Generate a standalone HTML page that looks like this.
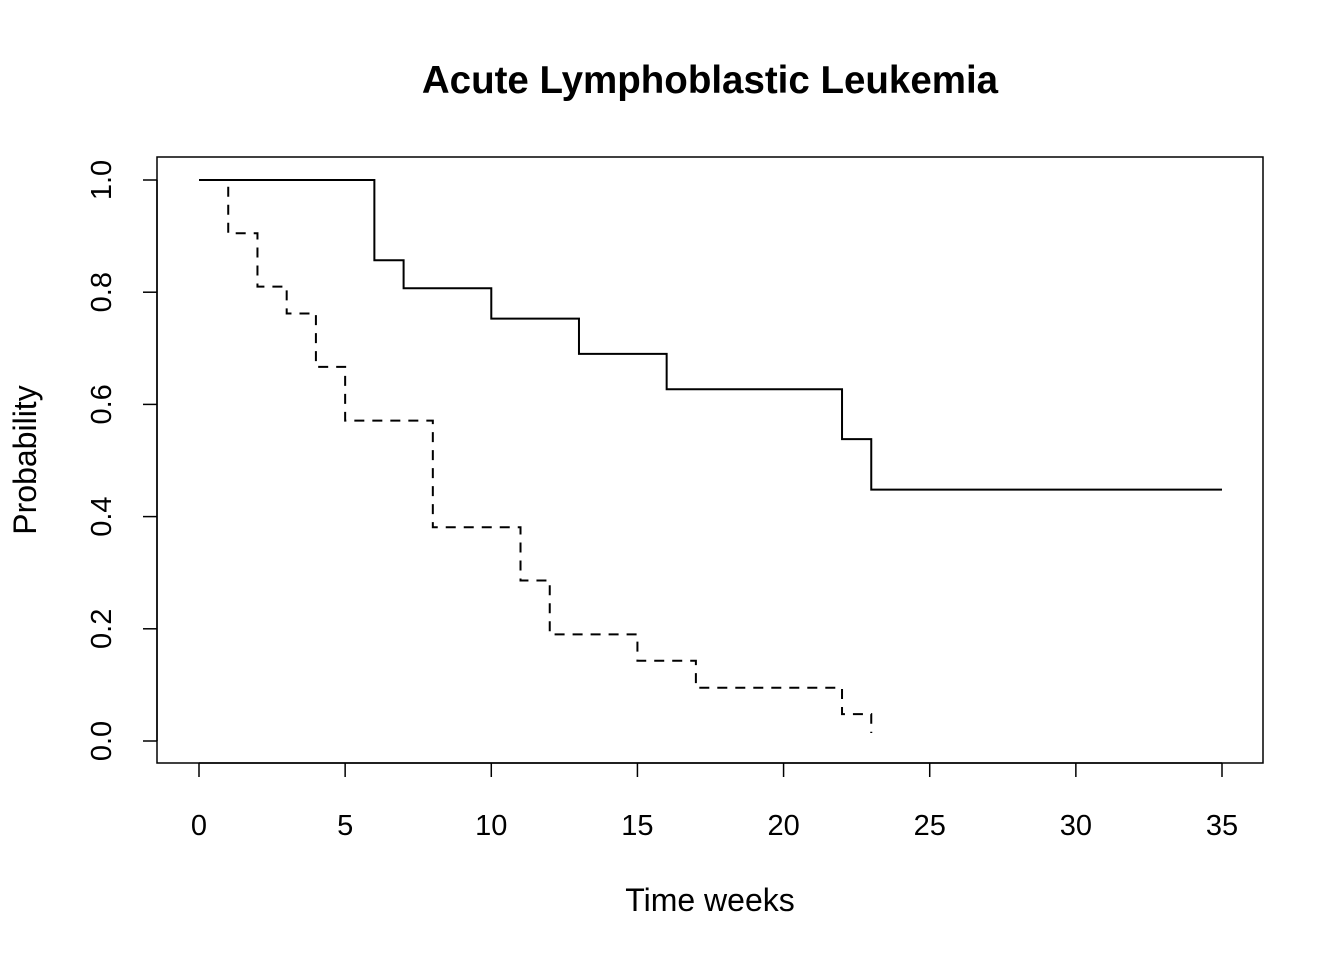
<!DOCTYPE html>
<html><head><meta charset="utf-8"><style>
body{margin:0;background:#fff}
svg{display:block;font-family:"Liberation Sans",Arial,sans-serif}
</style></head><body>
<svg id="chart" width="1344" height="960" xmlns="http://www.w3.org/2000/svg">
<rect width="1344" height="960" fill="#fff"/>
<text x="710" y="93" text-anchor="middle" font-size="38.5" font-weight="bold">Acute Lymphoblastic Leukemia</text>
<rect x="157" y="157" width="1106" height="606" fill="none" stroke="#000" stroke-width="1.5"/>
<text x="710" y="911" text-anchor="middle" font-size="32">Time weeks</text>
<text transform="translate(36,460) rotate(-90)" text-anchor="middle" font-size="32">Probability</text>
<g id="axes"></g>
<g id="series"></g>
</svg>
<script>
const xTicks=[0,5,10,15,20,25,30,35];
const yTicks=[0,0.2,0.4,0.6,0.8,1.0];
const yTickLabels=["0.0","0.2","0.4","0.6","0.8","1.0"];
const treatTimes=[0,6,7,10,13,16,22,23];
const treatSurv=[1,0.857,0.807,0.753,0.690,0.627,0.538,0.448];
const treatEnd=35;
const ctrlTimes=[0,1,2,3,4,5,8,11,12,15,17,22,23];
const ctrlSurv=[1,0.905,0.810,0.762,0.667,0.571,0.381,0.286,0.190,0.143,0.095,0.048,0.0];

const X=v=>199+v*(1222-199)/35;
const Y=v=>741-v*(741-180);
const NS="http://www.w3.org/2000/svg";
const axes=document.getElementById('axes'),ser=document.getElementById('series');
function mk(tag,attrs,parent){const e=document.createElementNS(NS,tag);for(const k in attrs)e.setAttribute(k,attrs[k]);parent.appendChild(e);return e;}
let xa=mk('line',{x1:X(0),x2:X(35),y1:763,y2:763,stroke:'#000','stroke-width':1.5},axes);


xTicks.forEach(t=>{
 const l=mk('line',{x1:X(t),x2:X(t),y1:763,y2:777,stroke:'#000','stroke-width':1.5},axes);
 
 
 const tx=mk('text',{x:X(t),y:835,'text-anchor':'middle','font-size':29},axes);tx.textContent=t;
 
 
});
let ya=mk('line',{x1:157,x2:157,y1:Y(0),y2:Y(1),stroke:'#000','stroke-width':1.5},axes);


yTicks.forEach((t,i)=>{
 const l=mk('line',{x1:143,x2:157,y1:Y(t),y2:Y(t),stroke:'#000','stroke-width':1.5},axes);
 
 
 const tx=mk('text',{transform:`translate(111,${Y(t)}) rotate(-90)`,'text-anchor':'middle','font-size':29},axes);tx.textContent=yTickLabels[i];
 
 
});
function stepPath(times,surv,end){
 let d=`M${X(times[0])},${Y(surv[0])}`;
 for(let i=1;i<times.length;i++){d+=` H${X(times[i])} V${Y(surv[i])}`;}
 if(end!=null)d+=` H${X(end)}`;
 return d;
}
const tp=mk('path',{d:stepPath(treatTimes,treatSurv,treatEnd),fill:'none',stroke:'#000','stroke-width':2},ser);


let cd=stepPath(ctrlTimes.slice(0,-1),ctrlSurv.slice(0,-1),null);
cd+=` H${X(ctrlTimes[ctrlTimes.length-1])} V${Y(ctrlSurv[ctrlSurv.length-1])-8}`;
const cp=mk('path',{d:cd,fill:'none',stroke:'#000','stroke-width':2,'stroke-dasharray':'10,8'},ser);


</script>
</body></html>
